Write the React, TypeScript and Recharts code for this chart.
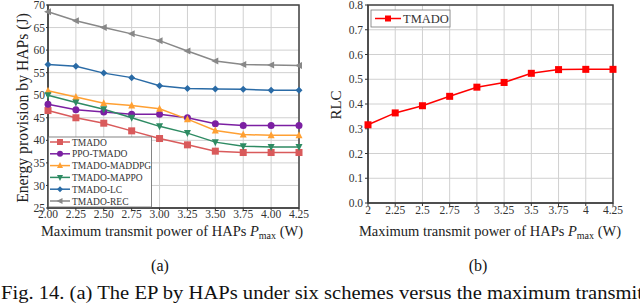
import React from "react";
import {
  CartesianGrid,
  Line,
  LineChart,
  ReferenceArea,
  XAxis,
  YAxis,
} from "recharts";

// x axis: maximum transmit power of HAPs (W)
const powers = [2, 2.25, 2.5, 2.75, 3, 3.25, 3.5, 3.75, 4, 4.25];

// (a) energy provision by HAPs (J)
const tmado = [46.6, 45.0, 43.8, 42.1, 40.4, 39.0, 37.6, 37.3, 37.3, 37.3];
const ppoTmado = [48.0, 46.8, 46.3, 45.8, 45.8, 45.0, 43.7, 43.3, 43.3, 43.3];
const tmadoMaddpg = [51.0, 49.6, 48.2, 47.7, 47.0, 44.7, 42.2, 41.3, 41.1, 41.1];
const tmadoMappo = [50.0, 48.4, 46.9, 45.0, 43.1, 41.6, 39.6, 38.7, 38.5, 38.5];
const tmadoLc = [56.8, 56.4, 54.9, 53.9, 52.1, 51.5, 51.4, 51.3, 51.1, 51.1];
const tmadoRec = [68.5, 66.5, 65.0, 63.6, 62.1, 59.8, 57.6, 56.8, 56.7, 56.6];

// (b) RLC
const rlc = [0.316, 0.364, 0.393, 0.431, 0.468, 0.487, 0.524, 0.539, 0.54, 0.54];

const epTicks = [25, 30, 35, 40, 45, 50, 55, 60, 65, 70];
const rlcTicks = [0, 0.1, 0.2, 0.3, 0.4, 0.5, 0.6, 0.7, 0.8];

const FONT = "'Liberation Serif', 'Times New Roman', Times, serif";

type Shape = "square" | "circle" | "up" | "down" | "diamond" | "left";

const series: { key: string; name: string; color: string; shape: Shape; values: number[] }[] = [
  { key: "tmado", name: "TMADO", color: "#d95a5b", shape: "square", values: tmado },
  { key: "ppo", name: "PPO-TMADO", color: "#7b1fa2", shape: "circle", values: ppoTmado },
  { key: "maddpg", name: "TMADO-MADDPG", color: "#ffa033", shape: "up", values: tmadoMaddpg },
  { key: "mappo", name: "TMADO-MAPPO", color: "#2e8b63", shape: "down", values: tmadoMappo },
  { key: "lc", name: "TMADO-LC", color: "#2a6ba6", shape: "diamond", values: tmadoLc },
  { key: "rec", name: "TMADO-REC", color: "#888888", shape: "left", values: tmadoRec },
];

const epData = powers.map((p, i) => {
  const row: Record<string, number> = { p };
  series.forEach((s) => (row[s.key] = s.values[i]));
  return row;
});
const rlcData = powers.map((p, i) => ({ p, rlc: rlc[i] }));

const Marker = ({ shape, x, y, color, r = 3.5 }: { shape: Shape; x: number; y: number; color: string; r?: number }) => {
  switch (shape) {
    case "square":
      return <rect x={x - r} y={y - r} width={r * 2} height={r * 2} fill={color} />;
    case "circle":
      return <circle cx={x} cy={y} r={r} fill={color} />;
    case "up":
      return <polygon points={`${x},${y - r - 0.5} ${x - r},${y + r - 0.5} ${x + r},${y + r - 0.5}`} fill={color} />;
    case "down":
      return <polygon points={`${x},${y + r + 0.5} ${x - r},${y - r + 0.5} ${x + r},${y - r + 0.5}`} fill={color} />;
    case "diamond":
      return <polygon points={`${x},${y - r} ${x + r},${y} ${x},${y + r} ${x - r},${y}`} fill={color} />;
    case "left":
      return <polygon points={`${x - r - 0.5},${y} ${x + r - 0.5},${y - r} ${x + r - 0.5},${y + r}`} fill={color} />;
  }
};

const makeDot = (shape: Shape, color: string) => (props: any) => (
  <Marker key={props.index} shape={shape} x={props.cx} y={props.cy} color={color} />
);

const tickStyle = { fontFamily: FONT, fontSize: 11.5, fill: "#333" };

const EnergyChart = () => (
  <LineChart width={320} height={250} data={epData} margin={{ top: 5, right: 21, left: 0, bottom: 0 }}>
    <CartesianGrid stroke="#d0d0d0" strokeWidth={1} />
    <XAxis
      dataKey="p"
      type="number"
      domain={[2, 4.25]}
      ticks={powers}
      tickFormatter={(v: number) => v.toFixed(2)}
      height={42}
      tick={tickStyle}
      tickSize={2}
      tickMargin={0}
      stroke="#333"
      interval={0}
    />
    <YAxis
      type="number"
      domain={[25, 70]}
      ticks={epTicks}
      width={48}
      tick={tickStyle}
      tickSize={2}
      tickMargin={1}
      stroke="#333"
      interval={0}
    />
    <ReferenceArea x1={2} x2={4.25} y1={25} y2={70} fill="none" stroke="#444" strokeWidth={1.5} ifOverflow="visible" />
    {series.map((s) => (
      <Line
        key={s.key}
        dataKey={s.key}
        name={s.name}
        stroke={s.color}
        strokeWidth={1.5}
        dot={makeDot(s.shape, s.color)}
        isAnimationActive={false}
      />
    ))}
  </LineChart>
);

const RlcChart = () => (
  <LineChart width={320} height={250} data={rlcData} margin={{ top: 5, right: 27, left: 0, bottom: 0 }}>
    <CartesianGrid stroke="#d0d0d0" strokeWidth={1} />
    <XAxis
      dataKey="p"
      type="number"
      domain={[2, 4.25]}
      ticks={powers}
      tickFormatter={(v: number) => String(v)}
      height={47}
      tick={tickStyle}
      tickSize={3}
      tickMargin={0}
      stroke="#333"
      interval={0}
    />
    <YAxis
      type="number"
      domain={[0, 0.8]}
      ticks={rlcTicks}
      tickFormatter={(v: number) => v.toFixed(1)}
      width={48}
      tick={tickStyle}
      tickSize={3}
      tickMargin={2}
      stroke="#333"
      interval={0}
    />
    <ReferenceArea x1={2} x2={4.25} y1={0} y2={0.8} fill="none" stroke="#444" strokeWidth={1.5} ifOverflow="visible" />
    <Line
      dataKey="rlc"
      name="TMADO"
      stroke="#ff0000"
      strokeWidth={1.5}
      dot={makeDot("square", "#ff0000")}
      isAnimationActive={false}
    />
  </LineChart>
);

const XTitle = ({ x, y }: { x: number; y: number }) => (
  <text x={x} y={y} textAnchor="middle" fontFamily={FONT} fontSize={14.5} fill="#222">
    Maximum transmit power of HAPs <tspan fontStyle="italic">P</tspan>
    <tspan fontSize={10} dy={3}>max</tspan>
    <tspan dy={-3}> (W)</tspan>
  </text>
);

const Overlay = () => (
  <svg width={640} height={303} style={{ position: "absolute", left: 0, top: 0, pointerEvents: "none" }}>
    {/* legend (a) */}
    <rect x={48.5} y={137} width={103} height={70} fill="#fff" stroke="#666" strokeWidth={0.8} />
    {series.map((s, i) => {
      const y = 142 + i * 11.8;
      return (
        <g key={s.key}>
          <line x1={50} x2={70} y1={y} y2={y} stroke={s.color} strokeWidth={1.5} />
          <Marker shape={s.shape} x={60} y={y} color={s.color} r={3} />
          <text x={72} y={y + 3.5} fontFamily={FONT} fontSize={9.5} fill="#333">
            {s.name}
          </text>
        </g>
      );
    })}
    {/* legend (b) */}
    <rect x={371} y={10} width={79} height={17} fill="#fff" stroke="#777" strokeWidth={0.8} />
    <line x1={375} x2={401} y1={18.5} y2={18.5} stroke="#ff0000" strokeWidth={1.5} />
    <Marker shape="square" x={388} y={18.5} color="#ff0000" r={3} />
    <text x={403} y={23} fontFamily={FONT} fontSize={12.5} fill="#333">
      TMADO
    </text>

    {/* axis titles */}
    <text transform="translate(28,108) rotate(-90)" textAnchor="middle" fontFamily={FONT} fontSize={15.7} fill="#222">
      Energy provision by HAPs (J)
    </text>
    <text transform="translate(341,105) rotate(-90)" textAnchor="middle" fontFamily={FONT} fontSize={15} fill="#222">
      RLC
    </text>
    <XTitle x={172} y={236} />
    <XTitle x={490} y={236} />

    <text x={160} y={271} textAnchor="middle" fontFamily={FONT} fontSize={16} fill="#111">
      (a)
    </text>
    <text x={478} y={271} textAnchor="middle" fontFamily={FONT} fontSize={16} fill="#111">
      (b)
    </text>
    <text x={1} y={299} fontFamily={FONT} fontSize={18} fill="#111" textLength={642} lengthAdjust="spacingAndGlyphs">
      Fig. 14.  (a) The EP by HAPs under six schemes versus the maximum transmit
    </text>
  </svg>
);

export default function App() {
  return (
    <div style={{ position: "fixed", left: 0, top: 0, width: 640, height: 303, background: "#fff", overflow: "hidden" }}>
      <div style={{ position: "absolute", left: 0, top: 0 }}>
        <EnergyChart />
      </div>
      <div style={{ position: "absolute", left: 320, top: 0 }}>
        <RlcChart />
      </div>
      <Overlay />
    </div>
  );
}
